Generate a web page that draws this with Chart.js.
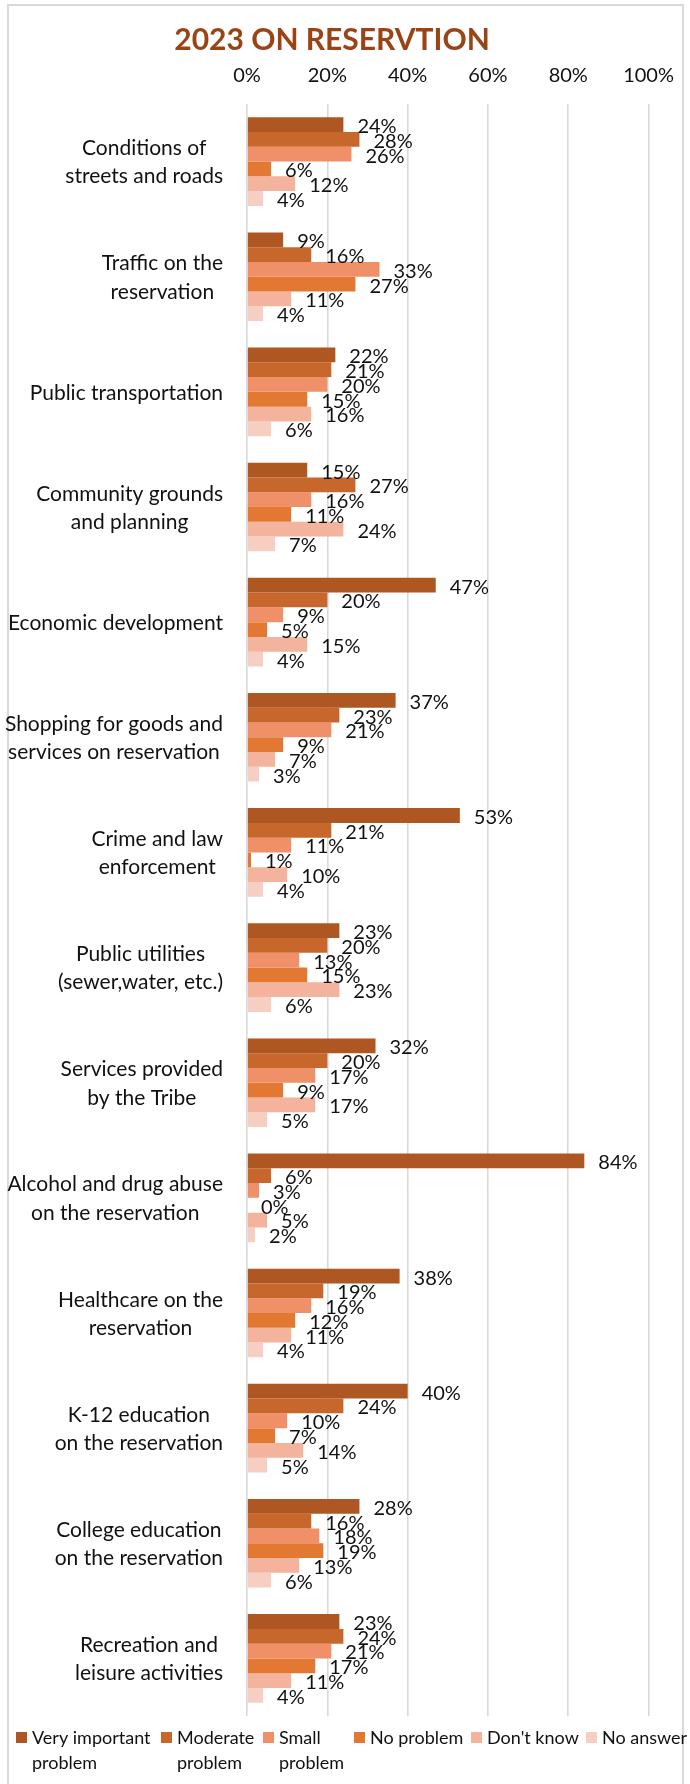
<!DOCTYPE html>
<html>
<head>
<meta charset="utf-8">
<script src="https://cdn.jsdelivr.net/npm/chart.js@4/dist/chart.umd.min.js"></script>
<style>
  html, body { margin: 0; padding: 0; background: #ffffff; }
  canvas { display: block; }
</style>
</head>
<body>
<canvas id="c" width="690" height="1784"></canvas>
<script>
// ---- data ----
const categories = [
  ["Conditions of", "streets and roads"],
  ["Traffic on the", "reservation"],
  ["Public transportation"],
  ["Community grounds", "and planning"],
  ["Economic development"],
  ["Shopping for goods and", "services on reservation"],
  ["Crime and law", "enforcement"],
  ["Public utilities", "(sewer,water, etc.)"],
  ["Services provided", "by the Tribe"],
  ["Alcohol and drug abuse", "on the reservation"],
  ["Healthcare on the", "reservation"],
  ["K-12 education", "on the reservation"],
  ["College education", "on the reservation"],
  ["Recreation and", "leisure activities"]
];
const seriesNames = [
  ["Very important", "problem"],
  ["Moderate", "problem"],
  ["Small", "problem"],
  ["No problem"],
  ["Don't know"],
  ["No answer"]
];
const veryImportant = [24, 9, 22, 15, 47, 37, 53, 23, 32, 84, 38, 40, 28, 23];
const moderate      = [28, 16, 21, 27, 20, 23, 21, 20, 20, 6, 19, 24, 16, 24];
const small         = [26, 33, 20, 16, 9, 21, 11, 13, 17, 3, 16, 10, 18, 21];
const noProblem     = [6, 27, 15, 11, 5, 9, 1, 15, 9, 0, 12, 7, 19, 17];
const dontKnow      = [12, 11, 16, 24, 15, 7, 10, 23, 17, 5, 11, 14, 13, 11];
const noAnswer      = [4, 4, 6, 7, 4, 3, 4, 6, 5, 2, 4, 5, 6, 4];
const tickValues    = [0, 20, 40, 60, 80, 100];
const titleText = "2023 ON RESERVTION";

// ---- styles ----
const colors = ["#AE5722", "#C8672B", "#EF9068", "#E27831", "#F3B39C", "#F6CEC2"];
const FONT = "Lato, 'Open Sans', sans-serif";

const seriesValues = [veryImportant, moderate, small, noProblem, dontKnow, noAnswer];

const pagePlugin = {
  id: 'page',
  beforeDraw(chart) {
    const ctx = chart.ctx;
    ctx.save();
    ctx.fillStyle = '#ffffff';
    ctx.fillRect(0, 0, chart.width, chart.height);
    ctx.strokeStyle = '#d9d9d9';
    ctx.lineWidth = 2;
    ctx.strokeRect(8, 5, 675, 1800);
    // title
    ctx.fillStyle = '#9A4416';
    ctx.font = "bold 30px " + FONT;
    ctx.textAlign = 'center';
    ctx.textBaseline = 'middle';
    ctx.fillText(titleText, 332, 40);
    ctx.restore();
  },
  afterDatasetsDraw(chart) {
    const ctx = chart.ctx;
    ctx.save();
    // value labels
    ctx.font = "20px " + FONT;
    ctx.fillStyle = '#111111';
    ctx.textAlign = 'left';
    ctx.textBaseline = 'middle';
    chart.data.datasets.forEach((ds, di) => {
      const meta = chart.getDatasetMeta(di);
      meta.data.forEach((el, i) => {
        ctx.fillText(ds.data[i] + '%', el.x + 14, el.y + 2);
      });
    });
    // category labels
    const yScale = chart.scales.y;
    ctx.font = "21px " + FONT;
    ctx.textAlign = 'center';
    const lh = 28.3;
    const rightEdge = 223;
    categories.forEach((lines, i) => {
      const y = yScale.getPixelForValue(i);
      const maxW = Math.max(...lines.map(l => ctx.measureText(l).width));
      const cx = rightEdge - maxW / 2;
      lines.forEach((l, j) => {
        ctx.fillText(l, cx, y + (j - (lines.length - 1) / 2) * lh + 1);
      });
    });
    // legend
    const boxX = [16, 161, 263, 354, 471, 586];
    ctx.font = "18px " + FONT;
    ctx.textAlign = 'left';
    seriesNames.forEach((lines, k) => {
      ctx.fillStyle = colors[k];
      ctx.fillRect(boxX[k], 1732, 11, 11);
      ctx.fillStyle = '#111111';
      lines.forEach((l, j) => {
        ctx.fillText(l, boxX[k] + 16, 1738 + j * 25);
      });
    });
    ctx.restore();
  }
};

new Chart(document.getElementById('c'), {
  type: 'bar',
  data: {
    labels: categories.map(l => l.join(' ')),
    datasets: seriesValues.map((vals, k) => ({
      label: seriesNames[k].join(' '),
      data: vals,
      backgroundColor: colors[k],
      borderWidth: 0,
      categoryPercentage: 0.77,
      barPercentage: 1.0
    }))
  },
  options: {
    indexAxis: 'y',
    responsive: false,
    animation: false,
    devicePixelRatio: 1,
    layout: { padding: { left: 0, right: 40, top: 0, bottom: 68 } },
    plugins: {
      legend: { display: false },
      title: { display: false },
      tooltip: { enabled: false }
    },
    scales: {
      x: {
        position: 'top',
        min: 0,
        max: 100,
        afterFit(scale) { scale.height = 104; },
        afterBuildTicks(scale) { scale.ticks = tickValues.map(v => ({ value: v })); },
        ticks: {
          font: { family: FONT, size: 20 },
          color: '#111111',
          padding: 16,
          callback: v => v + '%'
        },
        grid: { color: '#d9d9d9', lineWidth: 1.6, drawTicks: false },
        border: { display: false }
      },
      y: {
        afterFit(scale) { scale.width = 247; },
        ticks: { display: false },
        grid: { display: false },
        border: { display: false }
      }
    }
  },
  plugins: [pagePlugin]
});
</script>
</body>
</html>
